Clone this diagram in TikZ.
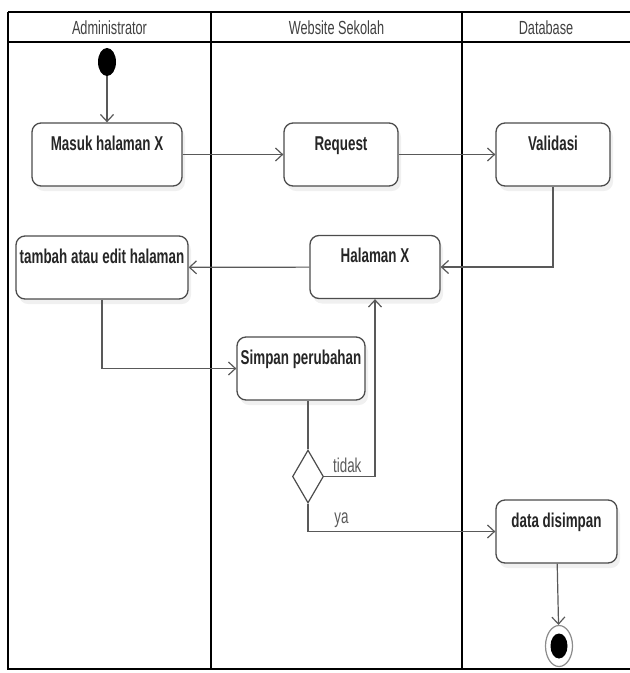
\documentclass[tikz,border=0pt]{standalone}
\usepackage{fontspec}
\setmainfont[FakeStretch=0.67]{Liberation Sans}
\usetikzlibrary{arrows.meta,shapes.geometric,shadows}
\tikzset{
  act/.style={draw=black!70, line width=1.3pt, rounded corners=9pt, fill=white,
    font=\fontsize{20}{24}\selectfont\bfseries, text=black!85,
    inner ysep=8pt, text height=19pt, text depth=28pt, minimum height=63pt,
    drop shadow={opacity=0.12, shadow xshift=3pt, shadow yshift=-5pt}},
  flow/.style={draw=black!65, line width=1.2pt, -{Straight Barb[length=7pt,width=13pt]}},
  lane/.style={line width=1.8pt},
  lanetitle/.style={font=\fontsize{19}{22}\selectfont, text=black!75},
  cond/.style={font=\fontsize{20}{22}\selectfont, text=black!65}
}
\begin{document}
\begin{tikzpicture}[x=1pt,y=-1pt]
\useasboundingbox (0,0) rectangle (630,673);
\draw[lane] (8,12) -- (630,12);
\draw[lane] (8,42) -- (630,42);
\draw[lane] (8,12) -- (8,669) -- (630,669);
\draw[lane] (211,12) -- (211,669);
\draw[lane] (462,12) -- (462,669);
\node[lanetitle] (hadmin) at (109.5,28) {Administrator};
\node[lanetitle] (hweb) at (336.5,28) {Website Sekolah};
\node[lanetitle] (hdb) at (546,28) {Database};

\node[ellipse, fill=black, minimum width=18pt, minimum height=28pt, inner sep=0pt] (start) at (107,62) {};
\node[act, minimum width=150pt] (masuk) at (107,154.5) {Masuk halaman X};
\node[act, minimum width=114pt] (request) at (341,154.5) {Request};
\node[act, minimum width=114pt] (validasi) at (553,154.5) {Validasi};
\node[act, minimum width=130pt] (halaman) at (375,267) {Halaman X};
\node[act, minimum width=172pt] (tambah) at (102,267.5) {tambah atau edit halaman};
\node[act, minimum width=128pt] (simpan) at (301,368.5) {Simpan perubahan};
\node[diamond, draw=black!70, line width=1.2pt, fill=white, minimum width=31pt, minimum height=53pt, inner sep=0pt] (cek) at (308,476.5) {};
\node[act, minimum width=121pt] (disimpan) at (556.5,531.5) {data disimpan};
\node[ellipse, draw=black!45, line width=1.2pt, fill=white, minimum width=27pt, minimum height=41pt, inner sep=0pt] (end) at (559,646) {};
\node[ellipse, fill=black, minimum width=17pt, minimum height=25pt, inner sep=0pt] (endin) at (end) {};

\draw[flow] (start) -- (masuk);
\draw[flow] (masuk) -- (request);
\draw[flow] (request) -- (validasi);
\draw[flow] (validasi.south) |- (halaman.east);
\draw[flow] (halaman) -- (tambah);
\draw[flow] (tambah.south) |- (simpan.west);
\draw[flow, -] (simpan.south -| cek.north) -- (cek.north);
\draw[flow] (cek.east) -| node[cond, pos=0.05, anchor=south west]{tidak} (halaman.south);
\draw[flow] (cek.south) |- node[cond, pos=0.56, anchor=south west]{ya} (disimpan.west);
\draw[flow] (disimpan) -- (end);
\end{tikzpicture}
\end{document}
